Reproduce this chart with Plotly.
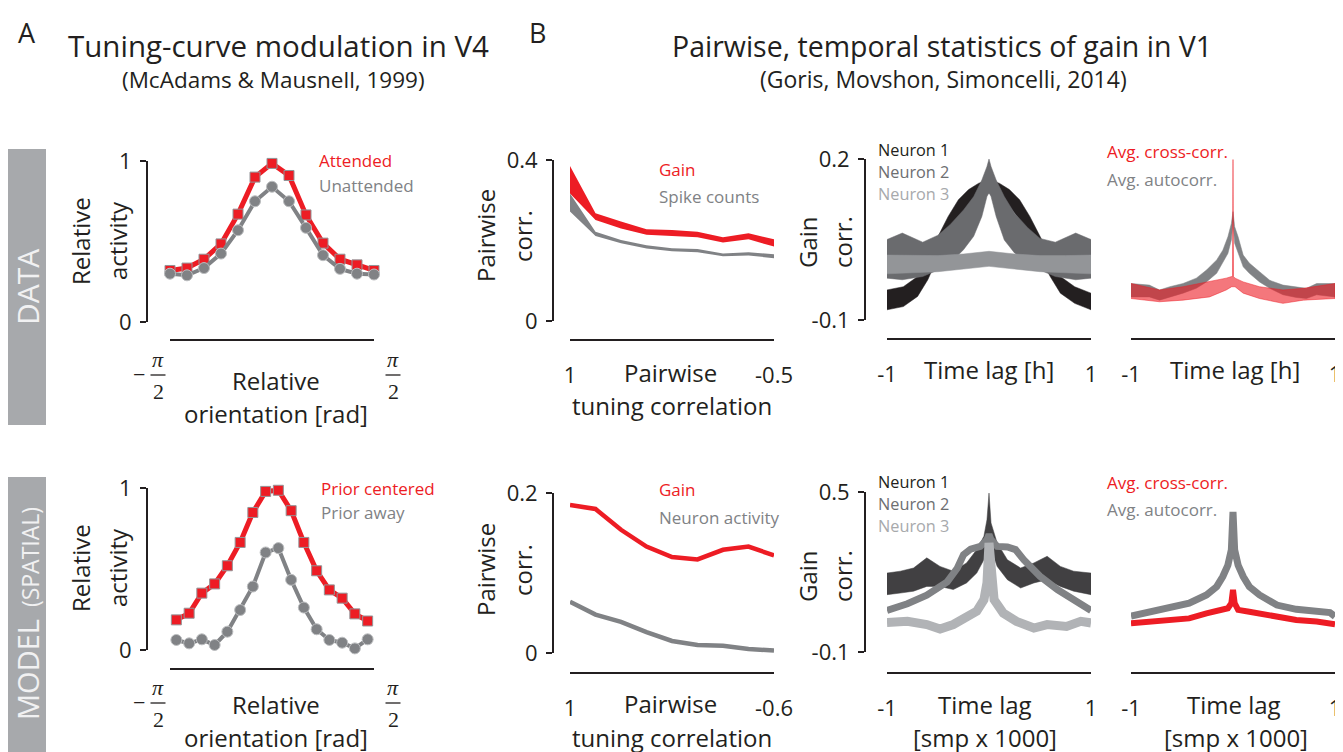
import numpy as np
import plotly.graph_objects as go

W, H = 1343, 752
OFF = 8  # page body margin: the figure div sits 8 px from the window corner
RED = '#ed1c24'
GRAY = '#808285'
AX = '#231f20'
FONT = 'Open Sans'
SERIF = 'Liberation Serif'

# ---------------- Panel A, DATA row (McAdams & Maunsell 1999) ----------------
ori_data_deg = [-90, -75, -60, -45, -30, -15, 0, 15, 30, 45, 60, 75, 90]
attended = [0.32, 0.335, 0.39, 0.485, 0.67, 0.90, 0.985, 0.91, 0.665, 0.49, 0.39, 0.355, 0.32]
unattended = [0.30, 0.29, 0.335, 0.425, 0.57, 0.75, 0.84, 0.75, 0.585, 0.415, 0.33, 0.30, 0.295]

# ---------------- Panel A, MODEL row ----------------
ori_model_deg = [-84.4, -73.1, -61.9, -50.6, -39.4, -28.1, -16.9, -5.6,
                 5.6, 16.9, 28.1, 39.4, 50.6, 61.9, 73.1, 84.4]
prior_centered = [0.186, 0.227, 0.351, 0.408, 0.520, 0.664, 0.849, 0.979,
                  0.986, 0.860, 0.664, 0.489, 0.371, 0.320, 0.223, 0.179]
prior_away = [0.062, 0.041, 0.066, 0.031, 0.113, 0.247, 0.392, 0.602,
              0.629, 0.433, 0.262, 0.128, 0.062, 0.045, 0.010, 0.066]

# ---------------- Panel B, pairwise correlation, DATA ----------------
tuning_corr_data = [1, 0.8125, 0.625, 0.4375, 0.25, 0.0625, -0.125, -0.3125, -0.5]
gain_pair_hi = [0.385, 0.268, 0.247, 0.228, 0.226, 0.222, 0.208, 0.218, 0.203]
gain_pair_lo = [0.317, 0.251, 0.230, 0.214, 0.211, 0.208, 0.195, 0.203, 0.185]
spike_pair_hi = [0.317, 0.222, 0.201, 0.188, 0.181, 0.179, 0.168, 0.171, 0.166]
spike_pair_lo = [0.272, 0.211, 0.193, 0.180, 0.173, 0.171, 0.161, 0.163, 0.156]

# ---------------- Panel B, pairwise correlation, MODEL ----------------
tuning_corr_model = [1, 0.8, 0.6, 0.4, 0.2, 0, -0.2, -0.4, -0.6]
gain_pair_model = [0.185, 0.180, 0.154, 0.133, 0.120, 0.117, 0.129, 0.133, 0.122]
activity_pair_model = [0.064, 0.048, 0.039, 0.026, 0.015, 0.010, 0.009, 0.005, 0.003]

# ---------------- Panel B, gain autocorrelation per neuron, DATA (envelopes) ----------------
lag_n1 = [-1, -0.84, -0.7, -0.6, -0.5, -0.4, -0.3, -0.2, -0.1, 0, 0.1, 0.2, 0.3, 0.4, 0.5, 0.6, 0.7, 0.84, 1]
n1_hi = [-0.044, -0.038, -0.019, 0.018, 0.056, 0.093, 0.124, 0.143, 0.155, 0.161,
         0.155, 0.143, 0.124, 0.093, 0.056, 0.018, -0.019, -0.038, -0.050]
n1_lo = [-0.081, -0.075, -0.056, -0.025, 0.018, 0.056, 0.087, 0.105, 0.124, 0.137,
         0.124, 0.112, 0.087, 0.056, 0.018, -0.019, -0.050, -0.069, -0.081]
lag_n2 = [-1, -0.85, -0.65, -0.5, -0.38, -0.25, -0.15, -0.07, -0.02, 0,
          0.02, 0.07, 0.15, 0.25, 0.38, 0.5, 0.65, 0.85, 1]
n2_hi = [0.050, 0.062, 0.045, 0.058, 0.078, 0.105, 0.130, 0.161, 0.186, 0.200,
         0.186, 0.161, 0.130, 0.099, 0.072, 0.052, 0.045, 0.062, 0.050]
n2_lo = [-0.022, -0.025, -0.019, -0.007, 0.006, 0.031, 0.056, 0.093, 0.130, 0.137,
         0.130, 0.093, 0.049, 0.025, 0.006, -0.007, -0.019, -0.025, -0.022]
lag_n3 = [-1, -0.75, -0.5, -0.25, 0, 0.25, 0.5, 0.75, 1]
n3_hi = [0.021, 0.020, 0.020, 0.023, 0.028, 0.023, 0.020, 0.020, 0.021]
n3_lo = [-0.014, -0.012, -0.010, -0.005, 0.000, -0.005, -0.010, -0.012, -0.014]

# ---------------- Panel B, average correlations, DATA (envelopes) ----------------
lag_auto = [-1, -0.82, -0.72, -0.62, -0.49, -0.36, -0.26, -0.16, -0.1, -0.05, -0.016, 0,
            0.016, 0.05, 0.1, 0.16, 0.26, 0.36, 0.49, 0.62, 0.72, 0.82, 1]
auto_hi = [-0.032, -0.035, -0.044, -0.038, -0.032, -0.022, -0.007, 0.012, 0.030, 0.055, 0.080, 0.102,
           0.074, 0.055, 0.021, 0.006, -0.010, -0.026, -0.035, -0.039, -0.041, -0.032, -0.032]
auto_lo = [-0.057, -0.057, -0.063, -0.057, -0.050, -0.041, -0.029, -0.013, 0.006, 0.024, 0.049, 0.083,
           0.043, 0.027, -0.001, -0.013, -0.029, -0.041, -0.053, -0.058, -0.060, -0.053, -0.057]
lag_cross = [-1, -0.72, -0.49, -0.23, -0.066, -0.013, -0.005, 0, 0.005, 0.02, 0.1, 0.26, 0.49, 0.69, 1]
cross_hi = [-0.032, -0.044, -0.038, -0.029, -0.022, -0.019, -0.019, 0.199, -0.019, -0.022,
            -0.029, -0.038, -0.044, -0.041, -0.032]
cross_lo = [-0.060, -0.066, -0.063, -0.057, -0.044, -0.038, -0.038, -0.038, -0.038, -0.038,
            -0.050, -0.060, -0.069, -0.063, -0.060]

# ---------------- Panel B, gain autocorrelation per neuron, MODEL ----------------
lag_m1 = [-1, -0.87, -0.74, -0.61, -0.48, -0.35, -0.22, -0.12, -0.05, -0.02, 0,
          0.02, 0.08, 0.18, 0.31, 0.44, 0.57, 0.7, 0.83, 1]
m1_hi = [0.196, 0.203, 0.215, 0.253, 0.221, 0.203, 0.234, 0.284, 0.334, 0.396, 0.496,
         0.384, 0.309, 0.246, 0.215, 0.234, 0.259, 0.221, 0.203, 0.196]
m1_lo = [0.115, 0.121, 0.128, 0.146, 0.146, 0.134, 0.159, 0.196, 0.246, 0.296, 0.321,
         0.284, 0.221, 0.171, 0.140, 0.159, 0.171, 0.146, 0.128, 0.115]
lag_m2 = [-1, -0.80, -0.61, -0.41, -0.31, -0.25, -0.18, -0.085, -0.02, 0,
          0.02, 0.08, 0.18, 0.26, 0.34, 0.5, 0.67, 0.83, 1]
m2_val = [0.056, 0.081, 0.113, 0.163, 0.215, 0.265, 0.286, 0.296, 0.321, 0.340,
          0.321, 0.296, 0.294, 0.284, 0.246, 0.184, 0.134, 0.096, 0.056]
lag_m3 = [-1, -0.8, -0.61, -0.48, -0.35, -0.22, -0.12, -0.05, -0.02, 0,
          0.02, 0.05, 0.14, 0.27, 0.44, 0.57, 0.76, 0.9, 1]
m3_val = [0.011, 0.015, 0.003, -0.014, 0.003, 0.034, 0.053, 0.096, 0.159, 0.309,
          0.159, 0.096, 0.046, 0.015, -0.010, 0.003, -0.004, 0.015, 0.009]

# ---------------- Panel B, average correlations, MODEL ----------------
lag_auto_m = [-1, -0.82, -0.62, -0.43, -0.26, -0.16, -0.1, -0.05, -0.016, 0,
              0.016, 0.05, 0.1, 0.16, 0.26, 0.43, 0.62, 0.82, 0.95, 1]
auto_m = [0.035, 0.051, 0.064, 0.083, 0.114, 0.145, 0.183, 0.226, 0.283, 0.425,
          0.283, 0.226, 0.183, 0.145, 0.114, 0.076, 0.060, 0.055, 0.048, 0.033]
lag_cross_m = [-1, -0.82, -0.62, -0.43, -0.26, -0.13, -0.05, -0.016, 0,
               0.016, 0.05, 0.16, 0.36, 0.62, 0.82, 1]
cross_m = [0.008, 0.014, 0.020, 0.026, 0.045, 0.054, 0.064, 0.083, 0.133,
           0.083, 0.058, 0.051, 0.039, 0.020, 0.014, 0.004]


# ============================ helpers ============================
def px(x):
    return (x - OFF) / W


def py(y):
    return 1 - (y - OFF) / H


TICKFONT = dict(family=FONT, size=22, color=AX)


def xax(x0, x1, rng, ybr, tickvals, ticktext=None):
    d = dict(domain=[px(x0), px(x1)], range=rng, anchor='free', position=py(ybr),
             showline=True, linecolor=AX, linewidth=2, ticks='inside', ticklen=6,
             tickwidth=2, tickcolor=AX, tickvals=tickvals, showgrid=False, automargin=False,
             zeroline=False, fixedrange=True, tickfont=TICKFONT, ticklabelstandoff=16)
    if ticktext is None:
        d['showticklabels'] = False
    else:
        d['ticktext'] = ticktext
    return d


def yax(ytop, ybot, rng, xpos=None, tickvals=None, ticktext=None):
    d = dict(domain=[py(ybot), py(ytop)], range=rng, anchor='free', showgrid=False,
             zeroline=False, fixedrange=True, automargin=False)
    if xpos is None:
        d['visible'] = False
        d['position'] = 0
    else:
        d.update(position=px(xpos), showline=True, linecolor=AX, linewidth=2,
                 ticks='outside', ticklen=6, tickwidth=2, tickcolor=AX,
                 tickvals=tickvals, ticktext=ticktext, tickfont=TICKFONT,
                 ticklabelstandoff=4)
    return d


def band(x, hi, lo, color, ax, lw=0):
    return go.Scatter(x=list(x) + list(x)[::-1], y=list(hi) + list(lo)[::-1],
                      fill='toself', fillcolor=color, mode='lines',
                      line=dict(color=color, width=lw), xaxis='x' + ax, yaxis='y' + ax,
                      hoverinfo='skip')


fig = go.Figure()

# ---- A1 ----
rad_d = np.deg2rad(ori_data_deg)
fig.add_trace(go.Scatter(x=rad_d, y=attended, mode='lines+markers', xaxis='x', yaxis='y',
                         line=dict(color=RED, width=5), cliponaxis=False,
                         marker=dict(symbol='square', size=10, color=RED,
                                     line=dict(color='#939598', width=1))))
fig.add_trace(go.Scatter(x=rad_d, y=unattended, mode='lines+markers', xaxis='x', yaxis='y',
                         line=dict(color=GRAY, width=4), cliponaxis=False,
                         marker=dict(symbol='circle', size=11, color=GRAY,
                                     line=dict(color='#bcbec0', width=1))))
# ---- A2 ----
rad_m = np.deg2rad(ori_model_deg)
fig.add_trace(go.Scatter(x=rad_m, y=prior_away, mode='lines+markers', xaxis='x2', yaxis='y2',
                         line=dict(color=GRAY, width=4), cliponaxis=False,
                         marker=dict(symbol='circle', size=11, color=GRAY,
                                     line=dict(color='#bcbec0', width=1))))
fig.add_trace(go.Scatter(x=rad_m, y=prior_centered, mode='lines+markers', xaxis='x2', yaxis='y2',
                         line=dict(color=RED, width=5), cliponaxis=False,
                         marker=dict(symbol='square', size=10, color=RED,
                                     line=dict(color='#939598', width=1))))
# ---- B1 left ----
fig.add_trace(band(tuning_corr_data, gain_pair_hi, gain_pair_lo, RED, '3'))
fig.add_trace(band(tuning_corr_data, spike_pair_hi, spike_pair_lo, GRAY, '3'))
# ---- B2 left ----
fig.add_trace(go.Scatter(x=tuning_corr_model, y=gain_pair_model, mode='lines', xaxis='x4', yaxis='y4',
                         line=dict(color=RED, width=4.5)))
fig.add_trace(go.Scatter(x=tuning_corr_model, y=activity_pair_model, mode='lines', xaxis='x4', yaxis='y4',
                         line=dict(color=GRAY, width=4.5)))
# ---- B1 middle ----
fig.add_trace(band(lag_n1, n1_hi, n1_lo, '#231f20', '5', 0.5))
fig.add_trace(band(lag_n2, n2_hi, n2_lo, '#6a6b6e', '5', 0.5))
fig.add_trace(band(lag_n3, n3_hi, n3_lo, '#939598', '5', 0.5))
# ---- B1 right ----
fig.add_trace(band(lag_auto, auto_hi, auto_lo, '#808285', '6', 0.5))
fig.add_trace(band(lag_cross, cross_hi, cross_lo, 'rgba(237,28,36,0.6)', '6', 0.8))
# ---- B2 middle ----
fig.add_trace(band(lag_m1, m1_hi, m1_lo, '#414042', '7', 0.5))
fig.add_trace(go.Scatter(x=lag_m2, y=m2_val, mode='lines', xaxis='x7', yaxis='y7',
                         line=dict(color='#808285', width=7)))
fig.add_trace(go.Scatter(x=lag_m3, y=m3_val, mode='lines', xaxis='x7', yaxis='y7',
                         line=dict(color='#b1b3b6', width=9)))
# ---- B2 right ----
fig.add_trace(go.Scatter(x=lag_auto_m, y=auto_m, mode='lines', xaxis='x8', yaxis='y8',
                         line=dict(color='#808285', width=7)))
fig.add_trace(go.Scatter(x=lag_cross_m, y=cross_m, mode='lines', xaxis='x8', yaxis='y8',
                         line=dict(color=RED, width=6)))

half_pi = np.pi / 2
layout = dict(
    width=W, height=H, margin=dict(l=0, r=0, t=0, b=0, pad=0, autoexpand=False), showlegend=False,
    paper_bgcolor='white', plot_bgcolor='rgba(0,0,0,0)',
    xaxis=xax(170, 374, [-half_pi, half_pi], 340, [-half_pi, half_pi]),
    yaxis=yax(161, 322, [0, 1], 147, [0, 1], ['0', '1']),
    xaxis2=xax(170, 374, [-half_pi, half_pi], 669, [-half_pi, half_pi]),
    yaxis2=yax(488, 650, [0, 1], 147, [0, 1], ['0', '1']),
    xaxis3=xax(570, 774, [1, -0.5], 340, [1, -0.5], ['1', '-0.5']),
    yaxis3=yax(160, 321, [0, 0.4], 553, [0, 0.4], ['0', '0.4']),
    xaxis4=xax(570, 774, [1, -0.6], 673, [1, -0.6], ['1', '-0.6']),
    yaxis4=yax(493, 653, [0, 0.2], 553, [0, 0.2], ['0', '0.2']),
    xaxis5=xax(887, 1091, [-1, 1], 339, [-1, 1], ['-1', '1']),
    yaxis5=yax(159, 320, [-0.1, 0.2], 865, [-0.1, 0.2], ['-0.1', '0.2']),
    xaxis6=xax(1131, 1335, [-1, 1], 339, [-1, 1], ['-1', '1']),
    yaxis6=yax(159, 320, [-0.1, 0.2]),
    xaxis7=xax(887, 1091, [-1, 1], 673, [-1, 1], ['-1', '1']),
    yaxis7=yax(492, 652, [-0.1, 0.5], 865, [-0.1, 0.5], ['-0.1', '0.5']),
    xaxis8=xax(1131, 1335, [-1, 1], 673, [-1, 1], ['-1', '1']),
    yaxis8=yax(492, 652, [-0.1, 0.5]),
)
fig.update_layout(**layout)

anns = []
shapes = []


def txt(x, y, s, size=24, color=AX, xanchor='center', angle=0, family=FONT):
    anns.append(dict(x=px(x), y=py(y), xref='paper', yref='paper', text=s, showarrow=False,
                     xanchor=xanchor, yanchor='middle', textangle=angle,
                     font=dict(family=family, size=size, color=color)))


# row boxes
shapes.append(dict(type='rect', xref='paper', yref='paper', x0=px(8), x1=px(46), y0=py(425), y1=py(149),
                   fillcolor='#a7a9ac', line=dict(width=0), layer='below'))
shapes.append(dict(type='rect', xref='paper', yref='paper', x0=px(8), x1=px(46), y0=py(762), y1=py(477),
                   fillcolor='#a7a9ac', line=dict(width=0), layer='below'))
txt(27, 287, 'DATA', 30, '#f1f1f2', angle=-90)
txt(27, 614, "MODEL<span style='font-size:23px'>  (SPATIAL)</span>", 29, '#f1f1f2', angle=-90)

# titles
txt(27, 33, 'A', 27)
txt(537, 33, 'B', 27)
txt(278, 46, 'Tuning-curve modulation in V4', 29.5)
txt(273, 79, '(McAdams &amp; Mausnell, 1999)', 22.5)
txt(942, 46, 'Pairwise, temporal statistics of gain in V1', 28.5)
txt(944, 79, '(Goris, Movshon, Simoncelli, 2014)', 23)


# fraction tick labels for panel A
def frac(xc, ybar, neg):
    txt(xc, ybar - 16, '<i>π</i>', 22, AX, family=SERIF)
    txt(xc, ybar + 16, '2', 22, AX, family=SERIF)
    shapes.append(dict(type='line', xref='paper', yref='paper', x0=px(xc - 7.5), x1=px(xc + 7.5),
                       y0=py(ybar), y1=py(ybar), line=dict(color=AX, width=1.3)))
    if neg:
        txt(xc - 19, ybar - 1, '−', 22, AX, family=SERIF)


for ybar in (375, 703):
    frac(158, ybar, True)
    frac(393, ybar, False)

# A labels
for yc, yx1, yx2 in ((241, 380, 413), (568, 704, 737)):
    txt(80, yc, 'Relative', 24, angle=-90)
    txt(117, yc, 'activity', 24, angle=-90)
    txt(276, yx1, 'Relative', 24)
    txt(276, yx2, 'orientation [rad]', 24)
LEG = 17
LEGN = 16.3
txt(317, 160, 'Attended', LEG, RED, 'left')
txt(317, 186, 'Unattended', LEG, GRAY, 'left')
txt(319, 488, 'Prior centered', LEG, RED, 'left')
txt(319, 512, 'Prior away', LEG, GRAY, 'left')

# B left labels
for yc, yx1, yx2 in ((236, 372, 405), (570, 703, 737)):
    txt(485, yc, 'Pairwise', 24, angle=-90)
    txt(522, yc, 'corr.', 24, angle=-90)
    txt(670, yx1, 'Pairwise', 24)
    txt(672, yx2, 'tuning correlation', 24)
txt(657, 169, 'Gain', LEG, RED, 'left')
txt(657, 196, 'Spike counts', LEG, GRAY, 'left')
txt(657, 489, 'Gain', LEG, RED, 'left')
txt(657, 517, 'Neuron activity', LEG, GRAY, 'left')

# B middle / right labels
for yc in (242, 576):
    txt(807, yc, 'Gain', 24, angle=-90)
    txt(842, yc, 'corr.', 24, angle=-90)
txt(989, 369, 'Time lag [h]', 24)
txt(1235, 369, 'Time lag [h]', 24)
txt(985, 704, 'Time lag', 24)
txt(985, 737, '[smp x 1000]', 24)
txt(1234, 704, 'Time lag', 24)
txt(1236, 737, '[smp x 1000]', 24)
for (y1, y2, y3) in ((150, 172, 194), (482, 504, 526)):
    txt(876, y1, 'Neuron 1', LEGN, AX, 'left')
    txt(876, y2, 'Neuron 2', LEGN, '#6d6e71', 'left')
    txt(876, y3, 'Neuron 3', LEGN, '#a7a9ac', 'left')
for (y1, y2) in ((152, 180), (482, 510)):
    txt(1105, y1, 'Avg. cross-corr.', LEG, RED, 'left')
    txt(1105, y2, 'Avg. autocorr.', LEG, GRAY, 'left')

fig.update_layout(annotations=anns, shapes=shapes)
fig.write_html('out.html')
